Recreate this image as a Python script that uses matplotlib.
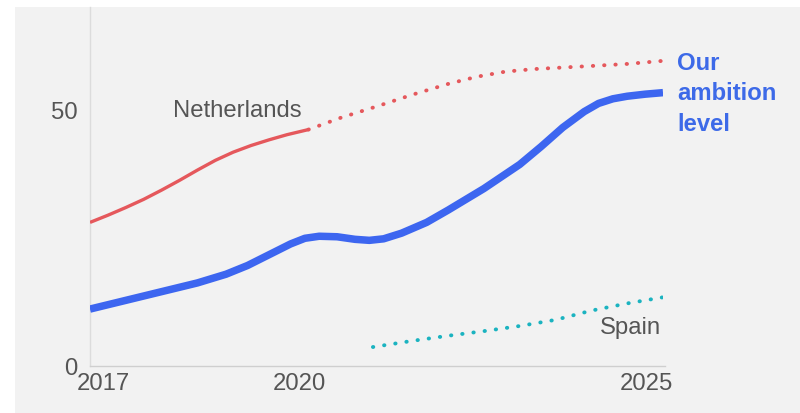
import matplotlib
matplotlib.use("Agg")
import matplotlib.pyplot as plt
from matplotlib.patches import Rectangle
from matplotlib.transforms import ScaledTranslation

plt.rcParams['font.family'] = ['Liberation Sans', 'DejaVu Sans']

# Data
nl_hist_years = [2017.0, 2017.25, 2017.5, 2017.75, 2018.0, 2018.25, 2018.5, 2018.75, 2019.0, 2019.25, 2019.5, 2019.75, 2020.05]
nl_hist_vals = [28.0, 29.4, 30.9, 32.5, 34.3, 36.2, 38.2, 40.1, 41.7, 43.0, 44.1, 45.1, 46.1]
nl_target_years = [2020.05, 2020.5, 2021.0, 2021.5, 2022.0, 2022.4, 2022.8, 2023.2, 2023.6, 2024.0, 2024.5, 2025.0]
nl_target_vals = [46.1, 48.4, 50.6, 52.9, 55.0, 56.4, 57.4, 57.9, 58.2, 58.5, 58.9, 59.5]
amb_years = [2017.0, 2017.5, 2018.0, 2018.5, 2018.9, 2019.2, 2019.5, 2019.8, 2020.0, 2020.2, 2020.45, 2020.7, 2020.9, 2021.1, 2021.35, 2021.7, 2022.0, 2022.5, 2023.0, 2023.3, 2023.6, 2023.9, 2024.1, 2024.3, 2024.5, 2024.75, 2025.0]
amb_vals = [11.1, 12.8, 14.5, 16.2, 17.9, 19.6, 21.7, 23.8, 24.9, 25.3, 25.2, 24.7, 24.5, 24.8, 25.9, 28.0, 30.4, 34.6, 39.3, 42.8, 46.5, 49.6, 51.2, 52.1, 52.6, 53.0, 53.3]
es_years = [2020.95, 2021.5, 2022.0, 2022.5, 2023.0, 2023.5, 2024.0, 2024.5, 2025.0]
es_vals = [3.7, 4.9, 5.9, 6.8, 7.8, 9.0, 10.8, 12.2, 13.4]
x_ticks = [2017, 2020, 2025]
y_ticks = [0, 50]

fig = plt.figure(figsize=(8, 4.14), dpi=100, facecolor='white')
fig.patches.append(Rectangle((15/800, 0), 1 - 15/800, (414 - 8)/414,
                             transform=fig.transFigure, facecolor='#f2f2f2',
                             edgecolor='none', zorder=-10))

ax = fig.add_axes([90/800, 47/414, (663 - 90)/800, (367 - 8)/414])
ax.set_facecolor('none')
ax.set_xlim(2017, 2025)
ax.set_ylim(0, 70)

red = '#e5585c'
blue = '#3d66f0'
teal = '#1bb3c0'

ax.plot(nl_hist_years, nl_hist_vals, color=red, lw=2.4, solid_capstyle='butt',
        solid_joinstyle='round', zorder=3)
ax.plot(nl_target_years, nl_target_vals, color=red, lw=2.8, linestyle=(0, (0.1, 2.8)),
        dash_capstyle='round', zorder=3)
ax.plot(amb_years, amb_vals, color=blue, lw=5.4, solid_capstyle='butt',
        solid_joinstyle='round', zorder=4)
ax.plot(es_years, es_vals, color=teal, lw=2.8, linestyle=(0, (0.1, 2.8)),
        dash_capstyle='round', zorder=3)

for s in ['top', 'right']:
    ax.spines[s].set_visible(False)
ax.spines['left'].set_color('#dcdcdc')
ax.spines['left'].set_linewidth(1.0)
ax.spines['bottom'].set_color('#cfcfcf')
ax.spines['bottom'].set_linewidth(1.0)
ax.spines['bottom'].set_bounds(2017, 2025.03)

ax.set_xticks(x_ticks)
ax.set_xticklabels([str(t) for t in x_ticks])
ax.set_yticks(y_ticks)
ax.set_yticklabels([str(t) for t in y_ticks])
ax.tick_params(axis='both', length=0, labelsize=17.2, colors='#555555')
ax.tick_params(axis='x', pad=4)
ax.tick_params(axis='y', pad=9)
xl = ax.get_xticklabels()
xl[0].set_ha('left')
xl[2].set_ha('right')
xl[0].set_transform(xl[0].get_transform() + ScaledTranslation(-13/100, 0, fig.dpi_scale_trans))
xl[2].set_transform(xl[2].get_transform() + ScaledTranslation(10/100, 0, fig.dpi_scale_trans))
xl[1].set_transform(xl[1].get_transform() + ScaledTranslation(-5/100, 0, fig.dpi_scale_trans))

ax.text(2019.05, 50, 'Netherlands', fontsize=17.2, color='#555555', ha='center', va='center')
ax.text(2024.97, 7.6, 'Spain', fontsize=17.2, color='#555555', ha='right', va='center')
ax.text(2025.2, 61.4, 'Our\nambition\nlevel', fontsize=17.2, color='#3d6ae8', fontweight='bold',
        ha='left', va='top', linespacing=1.4, clip_on=False)

fig.savefig('out.png', dpi=100, facecolor='white')
